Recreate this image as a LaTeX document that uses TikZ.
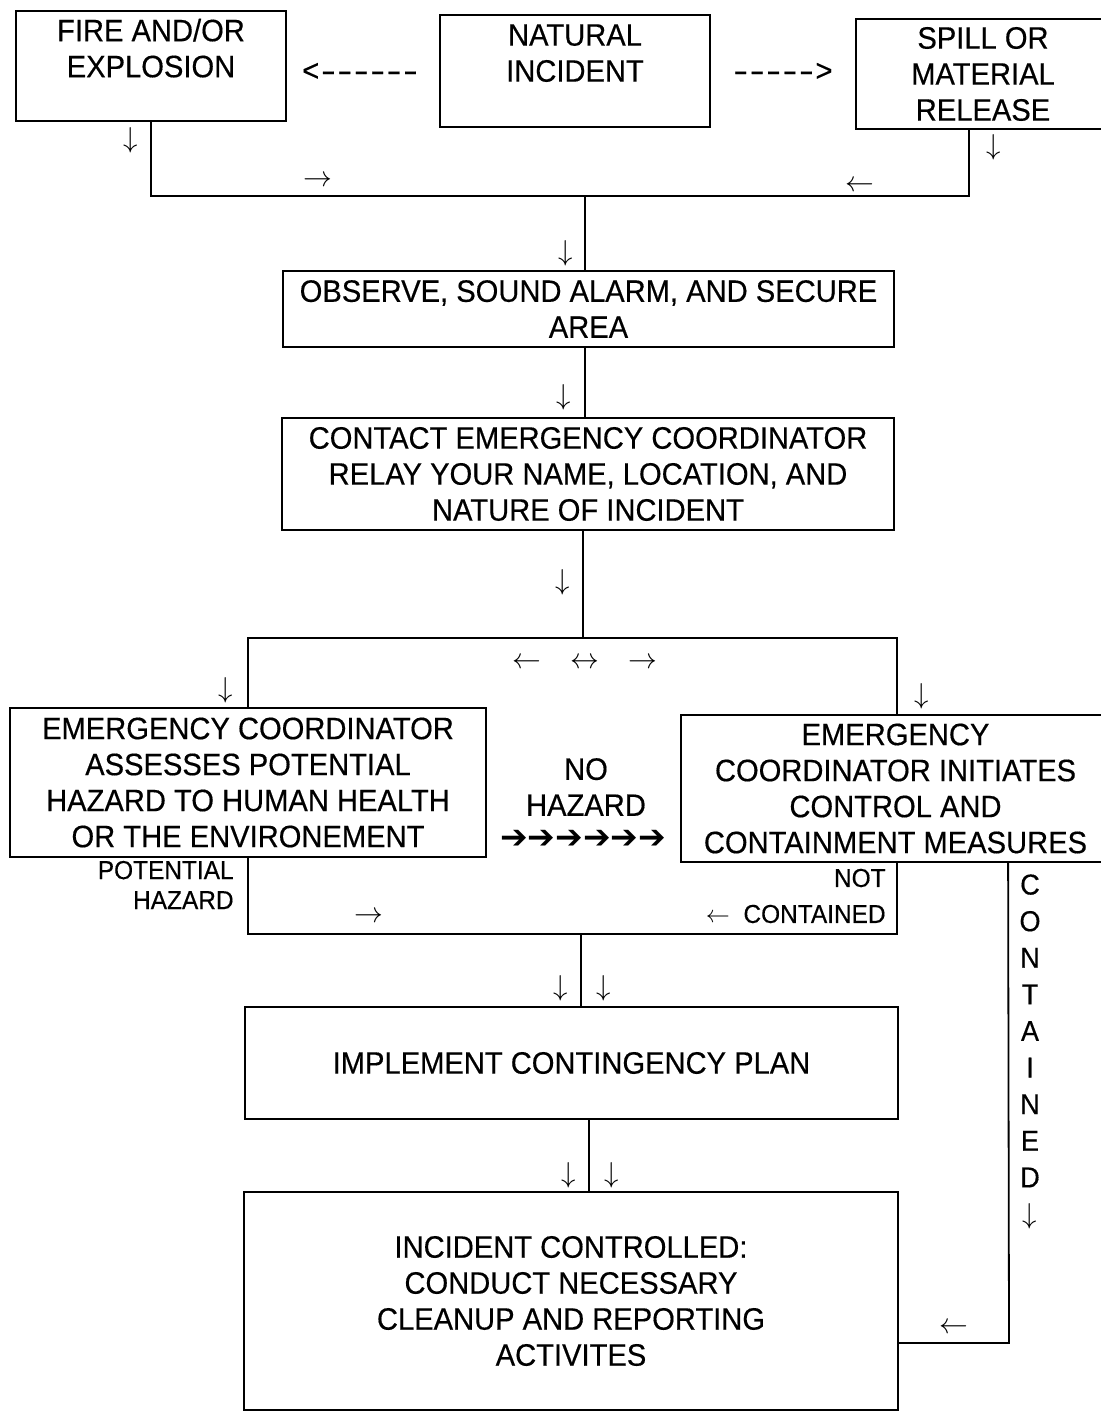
\documentclass[tikz,border=0pt]{standalone}
\usepackage{fontspec}
\setmainfont{Liberation Sans}[FakeStretch=0.94,FakeBold=0.4]
\newfontfamily\dejavufam{DejaVu Sans}
\newcommand\mainfs{\fontsize{15.5}{18}\selectfont}
\newcommand\smallfs{\fontsize{13}{15}\selectfont}
\newcommand\arrowfs{\fontsize{14.4}{16}\selectfont}
\newcommand\vertfs{\fontsize{14.4}{18.3}\selectfont}
\newcommand\dsh{\scalebox{1.5}[1]{-}}
\newcommand\dk{\kern0.06em}
\begin{document}
\begin{tikzpicture}[x=0.5pt,y=-0.5pt,
  box/.style={draw,line width=0.9pt,inner sep=0pt,align=center,font=\mainfs},
  ln/.style={line width=0.9pt},
  lbl/.style={inner sep=0pt,font=\smallfs},
  arw/.style={inner sep=0pt,font=\arrowfs},
  plain/.style={inner sep=0pt,font=\mainfs}]
\fill[white] (0,0) rectangle (1101,1412);
\useasboundingbox (0,0) rectangle (1101,1412);

% boxes
\node[box,minimum width=135pt,minimum height=55pt] (fire) at (151,66) {FIRE AND/OR\\EXPLOSION\\\mbox{}};
\node[box,minimum width=135pt,minimum height=56pt] (nat) at (575,71) {NATURAL\\INCIDENT\\\mbox{}};
\node[box,minimum width=127pt,minimum height=55pt] (spill) at (983,74) {SPILL OR\\MATERIAL\\RELEASE};
\node[box,minimum width=305.5pt,minimum height=38pt] (observe) at (588.5,309) {OBSERVE, SOUND ALARM, AND SECURE\\AREA};
\node[box,minimum width=306pt,minimum height=56pt] (contact) at (588,474) {CONTACT EMERGENCY COORDINATOR\\RELAY YOUR NAME, LOCATION, AND\\NATURE OF INCIDENT};
\node[box,minimum width=238pt,minimum height=74.5pt] (assess) at (248,782.5) {EMERGENCY COORDINATOR\\ASSESSES POTENTIAL\\HAZARD TO HUMAN HEALTH\\OR THE ENVIRONEMENT};
\node[box,minimum width=214.5pt,minimum height=73.5pt] (initiate) at (895.5,788.5) {EMERGENCY\\COORDINATOR INITIATES\\CONTROL AND\\CONTAINMENT MEASURES};
\node[box,minimum width=326.5pt,minimum height=56pt] (implement) at (571.5,1063) {IMPLEMENT CONTINGENCY PLAN};
\node[box,minimum width=327pt,minimum height=109pt] (incident) at (571,1301) {INCIDENT CONTROLLED:\\CONDUCT NECESSARY\\CLEANUP AND REPORTING\\ACTIVITES};

% dashed text arrows
\node[plain] (dl) at (360,72) {<\dk\dsh\dk\dsh\dk\dsh\dk\dsh\dk\dsh\dk\dsh};
\node[plain] (dr) at (783,72) {\dsh\dk\dsh\dk\dsh\dk\dsh\dk\dsh\dk>};

% connectors
\coordinate (j1) at (585,196);
\draw[ln] (fire.south) |- (j1);
\draw[ln] ([xshift=57pt]spill.south west) |- (j1);
\draw[ln] (j1) -- (j1 |- observe.north);
\draw[ln] (observe.south -| j1) -- (contact.north -| j1);
\coordinate (j2) at (583,638);
\draw[ln] (contact.south -| j2) -- (j2);
\coordinate (iN) at ([xshift=108.5pt]initiate.north west);
\draw[ln] (assess.north) -- (assess.north |- j2) -- (iN |- j2) -- (iN);
\coordinate (j3) at (581,934);
\coordinate (iS) at ([xshift=108.5pt]initiate.south west);
\draw[ln] (assess.south) -- (assess.south |- j3) -- (iS |- j3) -- (iS);
\draw[ln] (j3) -- (j3 |- implement.north);
\coordinate (m1) at ([xshift=172.5pt]implement.south west);
\draw[ln] (m1) -- (m1 |- incident.north);
\coordinate (iC) at ([xshift=164pt]initiate.south west);
\coordinate (c1) at (1009,1343);
\draw[ln] (iC) -- (c1) -- (c1 -| incident.east);

% arrow glyphs
\node[arw] (a1) at (131,140) {$\downarrow$};
\node[arw] (a2) at (318,181) {$\rightarrow$};
\node[arw] (a3) at (860,186) {$\leftarrow$};
\node[arw] (a4) at (994,147) {$\downarrow$};
\node[arw] (a5) at (566,253) {$\downarrow$};
\node[arw] (a6) at (564,397) {$\downarrow$};
\node[arw] (a7) at (563,582) {$\downarrow$};
\node[arw] (a8) at (527,663) {$\leftarrow$};
\node[arw] (a9) at (585,663) {$\leftrightarrow$};
\node[arw] (a10) at (643,663) {$\rightarrow$};
\node[arw] (a11) at (226,690) {$\downarrow$};
\node[arw] (a12) at (922,696) {$\downarrow$};
\node[arw] (a13) at (369,917) {$\rightarrow$};
\node[arw] (a14) at (561,988) {$\downarrow$};
\node[arw] (a15) at (604,988) {$\downarrow$};
\node[arw] (a16) at (569,1175) {$\downarrow$};
\node[arw] (a17) at (612,1175) {$\downarrow$};
\node[arw] (a18) at (954,1328) {$\leftarrow$};

% labels
\node[plain,align=center] (nh) at (586,787) {NO\\HAZARD};
\node[inner sep=0pt,font=\dejavufam\fontsize{16.5}{18}\selectfont] (bold) at (583,839) {➔➔➔➔➔➔};
\node[lbl,align=right,anchor=east] (ph) at (234,885) {POTENTIAL\\HAZARD};
\node[inner sep=0pt,font=\fontsize{13}{18}\selectfont,align=right,anchor=east] (nc) at (886,896) {NOT\\$\leftarrow$\ \ CONTAINED};
\node[inner sep=0pt,align=center,font=\vertfs,anchor=north] (vc) at (1030,874) {C\\O\\N\\T\\A\\I\\N\\E\\D\\$\downarrow$};
\end{tikzpicture}
\end{document}
